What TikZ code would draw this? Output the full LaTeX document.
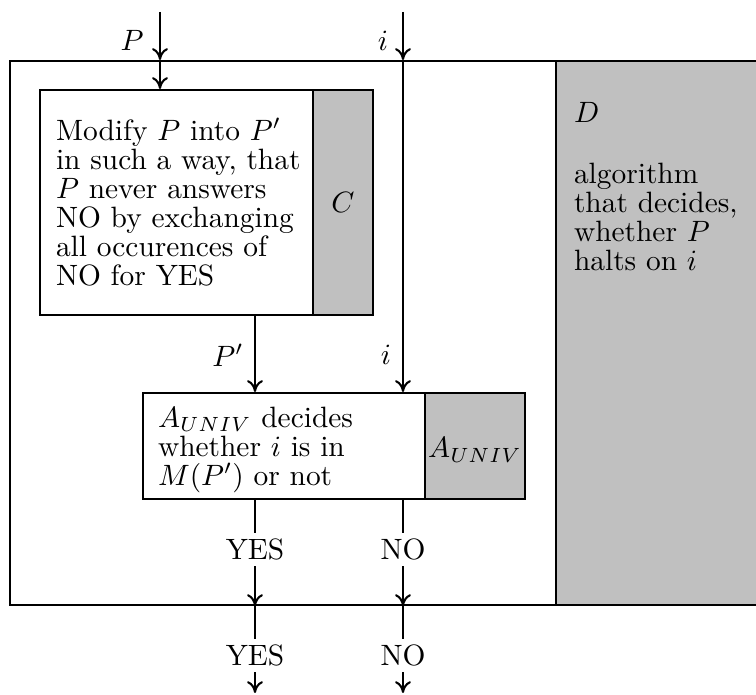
\documentclass[tikz,border=0pt]{standalone}
\usetikzlibrary{arrows.meta,fit}
\definecolor{boxgray}{RGB}{192,192,192}
\begin{document}
\begin{tikzpicture}[x=0.34pt,y=-0.34pt,line width=0.7pt,
  every node/.style={font=\fontsize{10}{9.9}\selectfont},
  frame/.style={draw,inner sep=0pt,line width=0.7pt},
  shaded/.style={frame,fill=boxgray},
  arr/.style={-{To[length=4pt,width=5.4pt]}},
  txt/.style={align=left,inner sep=0pt,anchor=north west},
  lab/.style={fill=white,inner sep=2pt}]
\useasboundingbox (0,0) rectangle (756,695);
\clip (0,0) rectangle (756,695);
% outer algorithm box and D
\node[frame,fit={(10,61) (800,605)}] (outer) {};
\node[shaded,fit={(556,61) (800,605)}] (dbox) {};
\node[txt] (dtext) at (573,101) {$D$\\[11pt]algorithm\\that decides,\\whether $P$\\halts on $i$};
% C box
\node[frame,fill=white,fit={(40,90) (313,315)}] (cbox) {};
\node[shaded,fit={(313,90) (373,315)}] (cgray) {};
\node[txt] (ctext) at (55,117) {Modify $P$ into $P'$\\in such a way, that\\$P$ never answers\\NO by exchanging\\all occurences of\\NO for YES};
\node (clab) at (cgray.center) {$C$};
% A_UNIV box
\node[frame,fill=white,fit={(143,393) (425,499)}] (abox) {};
\node[shaded,fit={(425,393) (525,499)}] (agray) {};
\node[txt] (atext) at (157,406) {$A_{UNIV}$ decides\\whether $i$ is in\\$M(P')$ or not};
\node (alab) at (475,450) {$A_{UNIV}$};
% coordinates
\coordinate (pin) at (160,12);
\coordinate (iin) at (403,12);
\coordinate (ptop) at (pin |- outer.north);
\coordinate (itop) at (iin |- outer.north);
\coordinate (pc) at (ptop |- cbox.north);
\coordinate (pcout) at (255,315);
\coordinate (pa) at (pcout |- abox.north);
\coordinate (ia) at (itop |- abox.north);
\coordinate (yout) at (pcout |- abox.south);
\coordinate (nout) at (itop |- abox.south);
\coordinate (ybot) at (yout |- outer.south);
\coordinate (nbot) at (nout |- outer.south);
\coordinate (yend) at (255,693);
\coordinate (nend) at (403,693);
% labels
\node (plab) at (132,40) {$P$};
\node (ilab) at (383,41) {$i$};
\node (pplab) at (228,355) {$P'$};
\node (ilab2) at (386,355) {$i$};
% connectors
\draw[arr] (pin) -- (ptop);
\draw[arr] (ptop) -- (pc);
\draw[arr] (iin) -- (itop);
\draw[arr] (itop) -- (ia);
\draw[arr] (pcout) -- (pa);
\draw[arr] (yout) -- node[lab,pos=0.47] (yes1) {YES} (ybot);
\draw[arr] (nout) -- node[lab,pos=0.47] (no1) {NO} (nbot);
\draw[arr] (ybot) -- node[lab,pos=0.57] (yes2) {YES} (yend);
\draw[arr] (nbot) -- node[lab,pos=0.57] (no2) {NO} (nend);
\end{tikzpicture}
\end{document}
